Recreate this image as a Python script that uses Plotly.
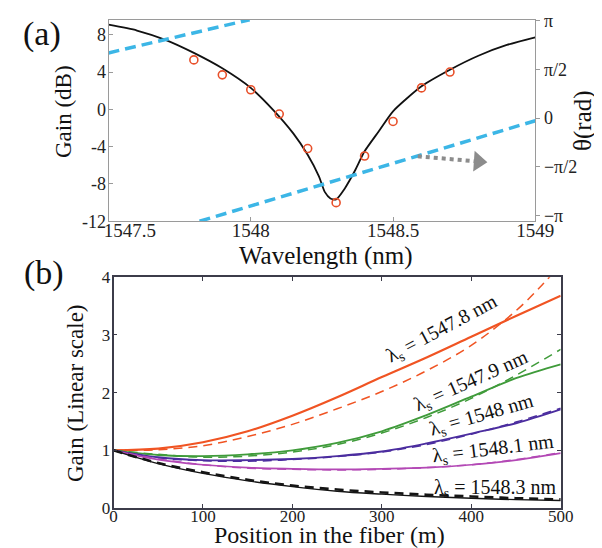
import math
import plotly.graph_objects as go

PI = math.pi
W, H = 602, 548

# ---------------- Panel (a) data ----------------
wl_fit = [1547.5, 1547.6, 1547.7, 1547.8, 1547.9, 1548.0, 1548.08, 1548.15, 1548.2,
          1548.24, 1548.26, 1548.28, 1548.3, 1548.33, 1548.365, 1548.4, 1548.45,
          1548.5, 1548.6, 1548.7, 1548.8, 1548.9, 1549.0]
gain_fit_db = [9.07, 8.45, 7.45, 6.05, 4.4, 2.3, -0.1, -2.6, -4.86,
               -7.2, -8.85, -9.55, -9.65, -8.5, -6.64, -4.5, -2.35,
               -0.21, 2.47, 4.25, 5.75, 6.9, 7.72]

wl_meas = [1547.8, 1547.9, 1548.0, 1548.1, 1548.2, 1548.3, 1548.4, 1548.5, 1548.6, 1548.7]
gain_meas_db = [5.3, 3.7, 2.1, -0.5, -4.2, -10.0, -5.0, -1.3, 2.3, 4.0]

phase_wl = [1547.5, 1547.996, None, 1547.82, 1549.0]
phase_rad = [2.10, 3.171, None, -3.326, -0.084]

arrow_wl = [1548.587, 1548.80]
arrow_rad = [-1.231, -1.40]

x_ticks_a = [1547.5, 1548, 1548.5, 1549]
x_ticklabels_a = ["\u00a0" * 9 + "1547.5", "1548", "1548.5", "1549"]
y_ticks_a = [-12, -8, -4, 0, 4, 8]
y_ticklabels_a = ["-12", "-8", "-4", "0", "4", "8"]
phase_ticks = [-PI, -PI / 2, 0, PI / 2, PI]
phase_ticklabels = ["\u2212\u03c0", "\u2212\u03c0/2", "0", "\u03c0/2", "\u03c0"]

# ---------------- Panel (b) data ----------------
position_m = [0, 50, 100, 150, 200, 250, 300, 350, 400, 450, 500]
position_dash_orange = [0, 50, 100, 150, 200, 250, 300, 350, 400, 450, 480, 490]

gain_1547_8_meas = [1.0, 1.03, 1.14, 1.33, 1.6, 1.92, 2.27, 2.61, 2.97, 3.33, 3.68]
gain_1547_8_sim = [1.0, 1.01, 1.08, 1.24, 1.45, 1.72, 2.02, 2.38, 2.82, 3.42, 3.88, 4.05]
gain_1547_9_meas = [1.0, 0.92, 0.9, 0.93, 1.0, 1.13, 1.33, 1.61, 1.93, 2.25, 2.49]
gain_1547_9_sim = [1.0, 0.93, 0.88, 0.9, 0.97, 1.1, 1.3, 1.57, 1.9, 2.3, 2.75]
gain_1548_0_meas = [1.0, 0.88, 0.83, 0.83, 0.85, 0.9, 0.98, 1.12, 1.29, 1.47, 1.71]
gain_1548_0_sim = [1.0, 0.87, 0.82, 0.81, 0.84, 0.89, 0.97, 1.1, 1.28, 1.49, 1.73]
gain_1548_1_meas = [1.0, 0.84, 0.75, 0.7, 0.68, 0.67, 0.68, 0.7, 0.75, 0.83, 0.95]
gain_1548_1_sim = [1.0, 0.85, 0.75, 0.69, 0.67, 0.66, 0.67, 0.7, 0.75, 0.84, 0.96]
gain_1548_3_meas = [1.0, 0.77, 0.6, 0.47, 0.37, 0.29, 0.24, 0.2, 0.17, 0.145, 0.13]
gain_1548_3_sim = [1.0, 0.78, 0.62, 0.49, 0.39, 0.32, 0.27, 0.23, 0.2, 0.17, 0.15]

x_ticks_b = [0, 100, 200, 300, 400, 500]
y_ticks_b = [0, 1, 2, 3, 4]

series_b = [
    ("1547.8", gain_1547_8_meas, position_dash_orange, gain_1547_8_sim, "#f05423", 2.2),
    ("1547.9", gain_1547_9_meas, position_m, gain_1547_9_sim, "#3f9b3a", 1.9),
    ("1548", gain_1548_0_meas, position_m, gain_1548_0_sim, "#4b2d9f", 1.9),
    ("1548.1", gain_1548_1_meas, position_m, gain_1548_1_sim, "#b348b5", 1.7),
    ("1548.3", gain_1548_3_meas, position_m, gain_1548_3_sim, "#151515", 1.4),
]
# label placement (data coords of panel b) and rotation
label_pos = [(367, 3.10, -28), (400, 2.20, -24), (412, 1.61, -16), (424, 1.02, -7), (426, 0.34, 0)]

FONT = "Liberation Serif, Times New Roman, serif"

fig = go.Figure()

# Panel (a)
fig.add_trace(go.Scatter(x=wl_fit, y=gain_fit_db, mode="lines", xaxis="x", yaxis="y",
                         line=dict(color="#111111", width=1.8, shape="spline", smoothing=0.6)))
fig.add_trace(go.Scatter(x=phase_wl, y=phase_rad, mode="lines", xaxis="x", yaxis="y2",
                         connectgaps=False,
                         line=dict(color="#3cb6e6", width=3.5, dash="11px,6px")))
fig.add_trace(go.Scatter(x=wl_meas, y=gain_meas_db, mode="markers", xaxis="x", yaxis="y",
                         marker=dict(symbol="circle-open", size=8, color="#e8502a",
                                     line=dict(width=1.6, color="#e8502a"))))
fig.add_trace(go.Scatter(x=arrow_wl, y=arrow_rad, mode="lines", xaxis="x", yaxis="y2",
                         line=dict(color="#8c8c8c", width=4, dash="dot")))
fig.add_trace(go.Scatter(x=[arrow_wl[-1]], y=[arrow_rad[-1]], mode="markers", xaxis="x", yaxis="y2",
                         marker=dict(symbol="triangle-right", size=18, color="#8c8c8c", angle=4)))

# Panel (b)
for name, meas, pos_sim, sim, col, lw in series_b:
    dash_w = 2.6 if name == "1548.3" else 1.5
    fig.add_trace(go.Scatter(x=pos_sim, y=sim, mode="lines", xaxis="x2", yaxis="y3",
                             line=dict(color=col, width=dash_w, dash="9px,6px", shape="spline")))
    fig.add_trace(go.Scatter(x=position_m, y=meas, mode="lines", xaxis="x2", yaxis="y3",
                             line=dict(color=col, width=lw, shape="spline")))


def px(xp, yp):
    return xp / W, 1 - yp / H


tickfont_a = dict(family=FONT, size=18, color="#222")
tickfont_b = dict(family=FONT, size=17, color="#222")

fig.update_layout(
    width=W, height=H,
    margin=dict(l=0, r=0, t=0, b=0),
    paper_bgcolor="white", plot_bgcolor="white",
    showlegend=False,
    font=dict(family=FONT, color="#222"),
    xaxis=dict(domain=[100.5 / W, 527.3 / W], anchor="y", range=[1547.5, 1549],
               tickvals=x_ticks_a, ticktext=x_ticklabels_a, tickfont=dict(family=FONT, size=19, color="#222"),
               showline=True, linecolor="#9a9a9a", linewidth=1, mirror=True,
               ticks="inside", ticklen=4, tickcolor="#9a9a9a", showgrid=False, zeroline=False,
               ticklabelstandoff=-8, automargin=False),
    yaxis=dict(domain=[1 - 213.3 / H, 1 - 11.7 / H], anchor="x", range=[-12, 9.61],
               tickvals=y_ticks_a, ticktext=y_ticklabels_a, tickfont=tickfont_a,
               showline=True, linecolor="#9a9a9a", linewidth=1, mirror=True,
               ticks="inside", ticklen=4, tickcolor="#9a9a9a", showgrid=False, zeroline=False,
               ticklabelstandoff=-2, automargin=False),
    yaxis2=dict(overlaying="y", side="right", anchor="x", range=[-3.326, 3.171],
                tickvals=phase_ticks, ticktext=phase_ticklabels, tickfont=tickfont_a,
                showline=False, ticks="outside", ticklen=4, tickcolor="#9a9a9a",
                showgrid=False, zeroline=False, automargin=False),
    xaxis2=dict(domain=[105.5 / W, 552.7 / W], anchor="y3", range=[0, 500],
                tickvals=x_ticks_b, tickfont=tickfont_b,
                showline=True, linecolor="#3c3c4a", linewidth=1.6, mirror="ticks",
                ticks="inside", ticklen=4, tickcolor="#3c3c4a", showgrid=False, zeroline=False,
                ticklabelstandoff=-8, automargin=False),
    yaxis3=dict(domain=[1 - 500 / H, 1 - 269.3 / H], anchor="x2", range=[0, 4],
                tickvals=y_ticks_b, tickfont=tickfont_b,
                showline=True, linecolor="#3c3c4a", linewidth=1.6, mirror="ticks",
                ticks="inside", ticklen=4, tickcolor="#3c3c4a", showgrid=False, zeroline=False,
                ticklabelstandoff=-2, automargin=False),
)

ann = []


def add_text(text, xp, yp, size, angle=0):
    x, y = px(xp, yp)
    ann.append(dict(text=text, x=x, y=y, xref="paper", yref="paper", showarrow=False,
                    xanchor="center", yanchor="middle", textangle=angle,
                    font=dict(family=FONT, size=size, color="#111")))


add_text("(a)", 34, 26, 34)
add_text("(b)", 36, 265, 34)
add_text("Gain (dB)", 55, 104, 23, -90)
add_text("\u03b8(rad)", 575, 113, 25, -90)
add_text("Wavelength (nm)", 318, 248, 25)
add_text("Gain (Linear scale)", 67, 385, 23, -90)
add_text("Position in the fiber (m)", 322, 527, 24)

for (name, *_), (lx, ly, ang) in zip(series_b, label_pos):
    ann.append(dict(text="\u03bb<sub>s</sub> = " + name + " nm", x=lx, y=ly, xref="x2", yref="y3",
                    showarrow=False, xanchor="center", yanchor="middle", textangle=ang,
                    font=dict(family=FONT, size=20, color="#111")))

fig.update_layout(annotations=ann)
fig.write_html("out.html")
